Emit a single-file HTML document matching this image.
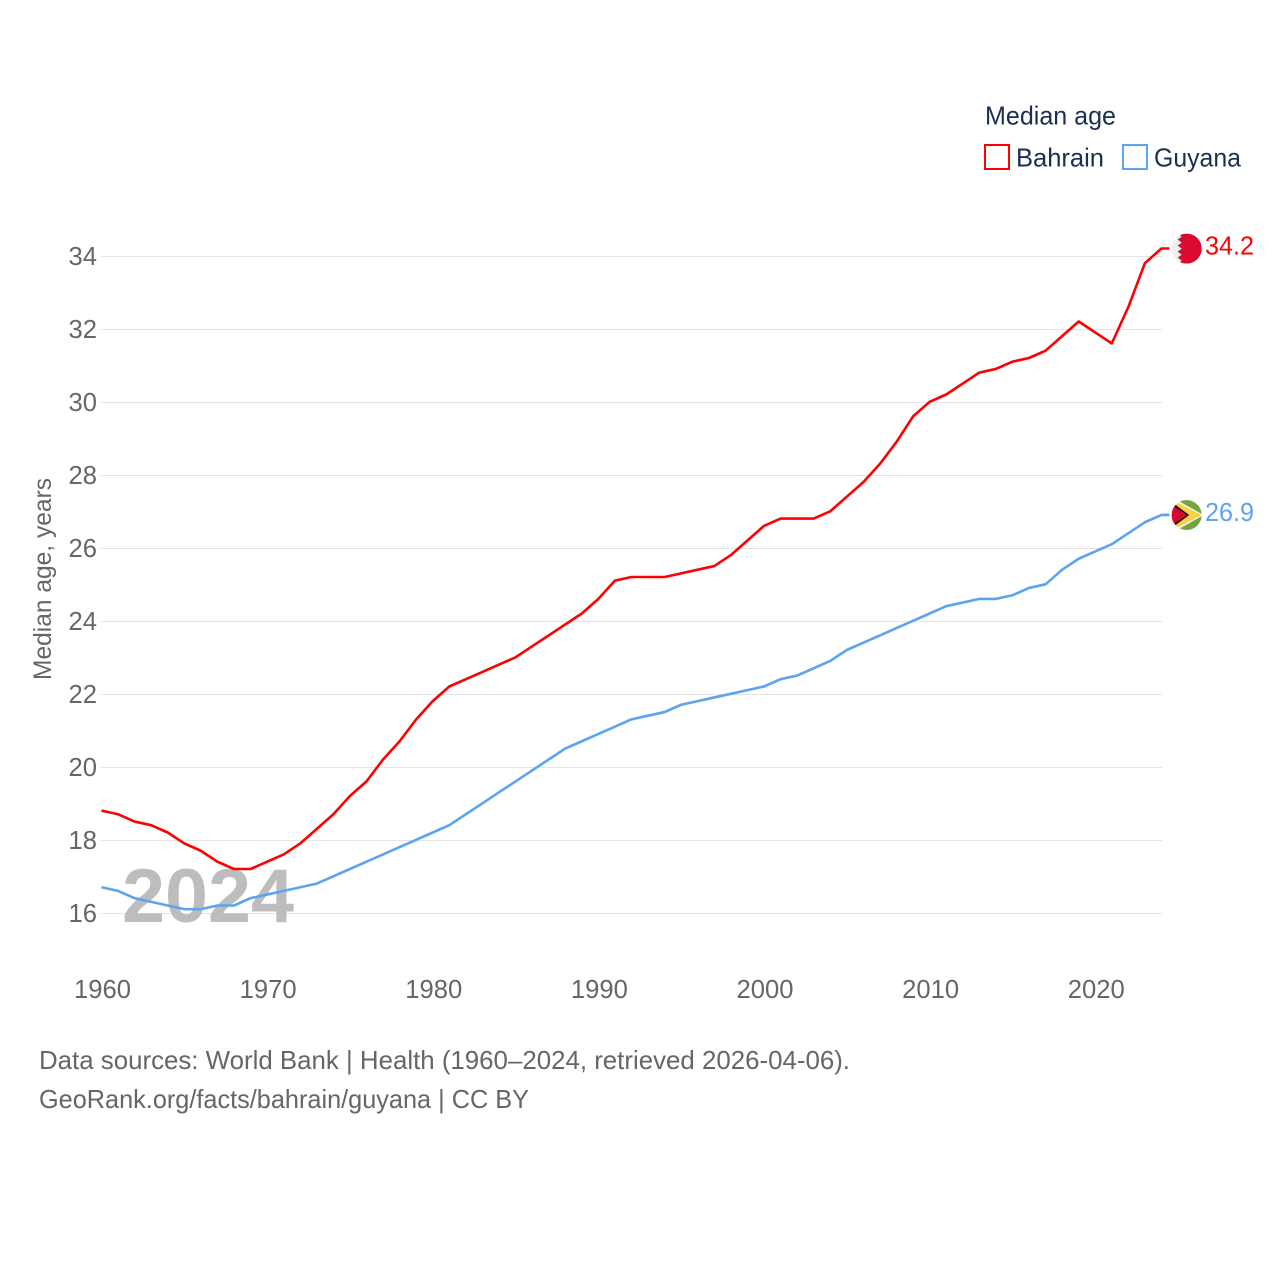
<!DOCTYPE html>
<html lang="en">
<head>
<meta charset="utf-8">
<title>Median age: Bahrain and Guyana</title>
<style>
html,body{margin:0;padding:0;background:#fff}
svg{display:block;font-family:"Liberation Sans",sans-serif}
</style>
</head>
<body>
<svg id="chart" xmlns="http://www.w3.org/2000/svg" width="1280" height="1280" viewBox="0 0 1280 1280">
  <defs>
    <clipPath id="flag-clip"><circle cx="0" cy="0" r="15"/></clipPath>
  </defs>
  <rect width="1280" height="1280" fill="#fff"/>
  <g id="grid"></g>
  <text x="122" y="922" font-size="76" font-weight="700" fill="#bdbdbd" textLength="172" lengthAdjust="spacingAndGlyphs">2024</text>
  <g id="y-axis"></g>
  <g id="x-axis"></g>
  <text transform="translate(51,680) rotate(-90)" font-size="25" fill="#666" textLength="202" lengthAdjust="spacingAndGlyphs">Median age, years</text>
  <g id="series"></g>

  <g id="flag-bahrain" clip-path="url(#flag-clip)">
    <rect x="-15" y="-15" width="30" height="30" fill="#eeeeee"/>
    <polygon points="15,-15 -9,-15 -5,-12 -9,-9 -5,-6 -9,-3 -5,0 -9,3 -5,6 -9,9 -5,12 -9,15 15,15" fill="#da0b32"/>
  </g>
  <g id="flag-guyana" clip-path="url(#flag-clip)">
    <rect x="-15" y="-15" width="30" height="30" fill="#74a543"/>
    <polygon points="-15,-18 17,0 -15,18" fill="#f4f4f4"/>
    <polygon points="-15,-15.5 15,0 -15,15.5" fill="#fbd341"/>
    <polygon points="-15,-13 2.5,0 -15,13" fill="#111"/>
    <polygon points="-15,-10 0.5,0 -15,10" fill="#d9062e"/>
  </g>
  <text id="label-bahrain" x="1205" font-size="25.6" fill="#ff0000" textLength="49" lengthAdjust="spacingAndGlyphs"></text>
  <text id="label-guyana" x="1205" font-size="25.6" fill="#5ba4ee" textLength="49" lengthAdjust="spacingAndGlyphs"></text>

  <g>
    <text x="985" y="124.5" font-size="26" fill="#1b3050" textLength="131" lengthAdjust="spacingAndGlyphs">Median age</text>
    <g>
      <rect x="985" y="145" width="24" height="24" fill="none" stroke="#ff0000" stroke-width="2"/>
      <text x="1016" y="166.5" font-size="26" fill="#1b3050" textLength="88" lengthAdjust="spacingAndGlyphs">Bahrain</text>
    </g>
    <g>
      <rect x="1123" y="145" width="24" height="24" fill="none" stroke="#5ba4ee" stroke-width="2"/>
      <text x="1154" y="166.5" font-size="26" fill="#1b3050" textLength="87" lengthAdjust="spacingAndGlyphs">Guyana</text>
    </g>
  </g>

  <text x="39" y="1069" font-size="25.6" fill="#666" textLength="811" lengthAdjust="spacingAndGlyphs">Data sources: World Bank | Health (1960–2024, retrieved 2026-04-06).</text>
  <text x="39" y="1108" font-size="25.6" fill="#666" textLength="490" lengthAdjust="spacingAndGlyphs">GeoRank.org/facts/bahrain/guyana | CC BY</text>
</svg>
<script>
const years = [1960,1961,1962,1963,1964,1965,1966,1967,1968,1969,1970,1971,1972,1973,1974,1975,1976,1977,1978,1979,1980,1981,1982,1983,1984,1985,1986,1987,1988,1989,1990,1991,1992,1993,1994,1995,1996,1997,1998,1999,2000,2001,2002,2003,2004,2005,2006,2007,2008,2009,2010,2011,2012,2013,2014,2015,2016,2017,2018,2019,2020,2021,2022,2023,2024];
const bahrain = [18.8,18.7,18.5,18.4,18.2,17.9,17.7,17.4,17.2,17.2,17.4,17.6,17.9,18.3,18.7,19.2,19.6,20.2,20.7,21.3,21.8,22.2,22.4,22.6,22.8,23.0,23.3,23.6,23.9,24.2,24.6,25.1,25.2,25.2,25.2,25.3,25.4,25.5,25.8,26.2,26.6,26.8,26.8,26.8,27.0,27.4,27.8,28.3,28.9,29.6,30.0,30.2,30.5,30.8,30.9,31.1,31.2,31.4,31.8,32.2,31.9,31.6,32.6,33.8,34.2];
const guyana = [16.7,16.6,16.4,16.3,16.2,16.1,16.1,16.2,16.2,16.4,16.5,16.6,16.7,16.8,17.0,17.2,17.4,17.6,17.8,18.0,18.2,18.4,18.7,19.0,19.3,19.6,19.9,20.2,20.5,20.7,20.9,21.1,21.3,21.4,21.5,21.7,21.8,21.9,22.0,22.1,22.2,22.4,22.5,22.7,22.9,23.2,23.4,23.6,23.8,24.0,24.2,24.4,24.5,24.6,24.6,24.7,24.9,25.0,25.4,25.7,25.9,26.1,26.4,26.7,26.9];
const yTicks = [16,18,20,22,24,26,28,30,32,34];
const xTicks = [1960,1970,1980,1990,2000,2010,2020];

const NS = 'http://www.w3.org/2000/svg';
function xScale(year) { return 101.5 + (year - 1960) * (1060 / 64); }
function yScale(value) { return 913.5 - (value - 16) * (657 / 18); }
function make(tag, parent, attrs, text) {
  const el = document.createElementNS(NS, tag);
  for (const key in attrs) el.setAttribute(key, attrs[key]);
  if (text !== undefined) el.textContent = text;
  parent.appendChild(el);
  return el;
}

const gridGroup = document.getElementById('grid');
const yAxisGroup = document.getElementById('y-axis');
const xAxisGroup = document.getElementById('x-axis');
const seriesGroup = document.getElementById('series');

yTicks.forEach(function (tick) {
  const line = make('line', gridGroup, {x1: 101, x2: 1162, y1: yScale(tick), y2: yScale(tick), stroke: '#e4e4e4', 'stroke-width': 1});
  
  
  const label = make('text', yAxisGroup, {x: 97, y: yScale(tick) + 8.5, 'text-anchor': 'end', 'font-size': 25.6, fill: '#666'}, String(tick));
  
  
});

xTicks.forEach(function (tick) {
  const label = make('text', xAxisGroup, {x: xScale(tick) + 1, y: 998, 'text-anchor': 'middle', 'font-size': 25.6, fill: '#666'}, String(tick));
  
  
});

function drawLine(values, color, name) {
  const lineOffset = -0.7;
  const stubEnd = 1169.5;
  const points = values.map(function (v, i) { return (i ? 'L' : 'M') + xScale(years[i]).toFixed(2) + ' ' + (yScale(v) + lineOffset).toFixed(2); });
  const d = points.join(' ') + ' L' + stubEnd + ' ' + (yScale(values[values.length - 1]) + lineOffset).toFixed(2);
  const path = make('path', seriesGroup, {d: d, fill: 'none', stroke: color, 'stroke-width': 2.6, 'stroke-linejoin': 'round'});
  
  
}
drawLine(guyana, '#5ba4ee', 'line-guyana');
drawLine(bahrain, '#ff0000', 'line-bahrain');

function placeEnd(values, flagId, labelId) {
  const last = values[values.length - 1];
  const y = yScale(last);
  document.getElementById(flagId).setAttribute('transform', 'translate(1186.7,' + (y - 0.6).toFixed(2) + ')');
  const label = document.getElementById(labelId);
  label.setAttribute('y', (y + 5.5).toFixed(2));
  label.textContent = last.toFixed(1);
}
placeEnd(bahrain, 'flag-bahrain', 'label-bahrain');
placeEnd(guyana, 'flag-guyana', 'label-guyana');
</script>
</body>
</html>
